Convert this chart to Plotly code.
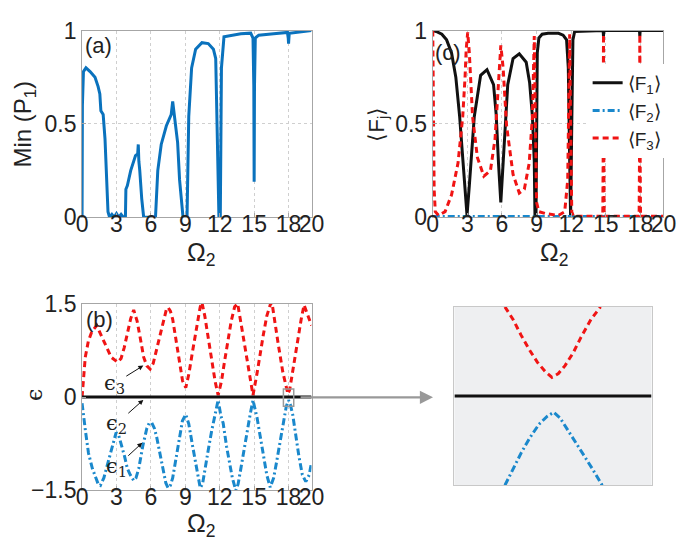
import plotly.graph_objects as go

# ---------------- data ----------------
# (a) Min(P1) vs Omega2
a_x = [0, 0.03, 0.12, 0.34, 0.7, 1.13, 1.4, 1.55, 1.64, 1.84, 2.0, 2.15, 2.26, 2.4, 2.6, 2.8, 3.0,
       3.2, 3.4, 3.6, 3.78, 3.82, 3.95, 4.24, 4.66, 4.85, 4.9, 4.95, 5.03, 5.2, 5.37, 5.5, 6.0,
       6.4, 6.6, 6.9, 7.35, 7.77, 7.9, 8.05, 8.33, 8.5, 8.7, 8.8, 9.0, 9.15, 9.3, 9.55, 9.9,
       10.45, 11.0, 11.45, 11.65, 11.8, 11.93, 12.05, 12.15, 12.37, 13.84, 14.7, 14.9, 14.97,
       15.0, 15.03, 15.1, 15.4, 16.7, 17.9, 17.97, 18.0, 18.03, 18.06, 20.0]
a_y = [0, 0.6, 0.78, 0.80, 0.78, 0.75, 0.70, 0.66, 0.57, 0.55, 0.42, 0.2, 0.03, 0.0, 0.015, 0.0,
       0.02, 0.0, 0.015, 0.0, 0.0, 0.15, 0.17, 0.25, 0.33, 0.34, 0.39, 0.3, 0.25, 0.1, 0.0, 0.0,
       0.0, 0.0, 0.25, 0.39, 0.49, 0.55, 0.62, 0.54, 0.40, 0.2, 0.03, 0.0, 0.0, 0.0, 0.54, 0.8,
       0.9, 0.935, 0.93, 0.9, 0.85, 0.37, 0.0, 0.0, 0.8, 0.966, 0.983, 0.986, 0.96, 0.7, 0.19,
       0.7, 0.96, 0.975, 0.983, 0.99, 0.96, 0.93, 0.96, 0.985, 1.0]

# (c) <F_j> vs Omega2
f1_x = [0, 0.3, 0.79, 1.2, 1.63, 2.0, 2.33, 2.75, 2.97, 3.17, 3.6, 4.15, 4.7, 5.27, 5.5, 5.7,
        5.9, 6.1, 6.5, 6.96, 7.5, 8.1, 8.4, 8.64, 8.8, 8.86, 8.95, 9.06, 9.2, 9.48, 10.0, 10.9,
        11.3, 11.6, 11.75, 11.87, 11.95, 12.05, 12.15, 12.3, 14.77, 14.8, 14.83, 17.92, 17.95,
        17.98, 20.0]
f1_y = [1.0, 0.995, 0.98, 0.95, 0.88, 0.75, 0.54, 0.2, 0.01, 0.17, 0.54, 0.76, 0.79, 0.71, 0.55,
        0.29, 0.08, 0.29, 0.71, 0.85, 0.875, 0.83, 0.72, 0.54, 0.3, 0.01, 0.0, 0.88, 0.96, 0.98,
        0.985, 0.985, 0.975, 0.95, 0.8, 0.3, 0.0, 0.5, 0.95, 0.995, 1.0, 0.97, 1.0, 1.0, 0.97,
        1.0, 1.0]
f2_x = [0, 5, 10, 15, 20]
f2_y = [0.004, 0.004, 0.004, 0.004, 0.004]
f3_x = [0, 0.05, 0.12, 0.22, 0.5, 1.07, 1.63, 2.19, 2.6, 2.8, 2.9, 3.03, 3.17, 3.45, 3.87, 4.43,
        5.0, 5.4, 5.7, 5.9, 6.1, 6.4, 6.96, 7.5, 7.94, 8.36, 8.64, 8.72, 8.8, 8.9, 9.0, 9.2, 9.76,
        10.9, 11.44, 11.7, 11.8, 11.87, 11.95, 12.05, 12.2, 14.74, 14.77, 14.8, 14.83, 14.86,
        17.89, 17.92, 17.95, 17.98, 18.01, 20.0]
f3_y = [1.0, 0.6, 0.15, 0.03, 0.01, 0.03, 0.12, 0.29, 0.54, 0.75, 0.9, 0.99, 0.88, 0.54, 0.32,
        0.22, 0.25, 0.42, 0.71, 0.92, 0.8, 0.49, 0.23, 0.13, 0.15, 0.29, 0.54, 0.8, 0.97, 0.5,
        0.08, 0.03, 0.02, 0.01, 0.03, 0.2, 0.6, 0.98, 0.5, 0.03, 0.005, 0.005, 0.3, 0.98, 0.3,
        0.005, 0.005, 0.3, 0.98, 0.3, 0.005, 0.005]

# (b) quasienergies vs Omega2
e3_x = [0.0, 0.08, 0.28, 0.55, 0.85, 1.27, 1.7, 2.1, 2.54, 3.1, 3.4, 3.67, 3.95, 4.24, 4.5, 4.8,
        5.1, 5.37, 5.65, 5.93, 6.2, 6.5, 6.78, 7.06, 7.34, 7.5, 7.7, 7.9, 8.1, 8.33, 8.55, 8.76,
        9.04, 9.32, 9.6, 9.9, 10.1, 10.3, 10.45, 10.7, 11.0, 11.3, 11.6, 11.86, 12.15, 12.4,
        12.7, 13.0, 13.3, 13.56, 13.84, 14.1, 14.4, 14.65, 14.9, 15.25, 15.5, 15.8, 16.1, 16.4,
        16.55, 16.8, 17.1, 17.5, 17.8, 17.94, 18.1, 18.36, 18.6, 18.9, 19.1, 19.35, 19.6, 19.8,
        20.0]
e3_y = [0.0, 0.23, 0.64, 0.9, 1.05, 1.15, 0.98, 0.8, 0.64, 0.56, 0.62, 0.79, 1.02, 1.26, 1.4,
        1.22, 0.92, 0.64, 0.5, 0.45, 0.54, 0.78, 1.0, 1.22, 1.4, 1.44, 1.38, 1.25, 1.02, 0.74,
        0.48, 0.26, 0.15, 0.38, 0.7, 1.0, 1.22, 1.45, 1.52, 1.3, 0.95, 0.6, 0.25, 0.03, 0.25,
        0.55, 0.9, 1.22, 1.45, 1.5, 1.2, 0.9, 0.55, 0.25, 0.03, 0.38, 0.68, 1.0, 1.3, 1.48, 1.52,
        1.2, 0.85, 0.4, 0.15, 0.05, 0.12, 0.43, 0.7, 1.0, 1.25, 1.48, 1.35, 1.25, 1.15]
e2_x = [0, 20]
e2_y = [0, 0]
e1_x = [0.0, 0.08, 0.3, 0.56, 0.9, 1.41, 1.6, 1.9, 2.26, 2.6, 2.97, 3.2, 3.4, 3.7, 3.95, 4.2,
        4.5, 4.7, 4.94, 5.3, 5.65, 5.85, 6.07, 6.3, 6.5, 6.8, 7.06, 7.3, 7.5, 7.7, 7.9, 8.2,
        8.47, 8.75, 9.04, 9.3, 9.6, 9.9, 10.1, 10.3, 10.5, 10.7, 11.0, 11.3, 11.6, 11.86, 12.1,
        12.3, 12.6, 12.85, 13.1, 13.4, 13.6, 13.84, 14.1, 14.4, 14.65, 14.9, 15.25, 15.5, 15.8,
        16.1, 16.4, 16.7, 16.95, 17.2, 17.5, 17.8, 18.0, 18.15, 18.36, 18.6, 18.9, 19.2, 19.5,
        19.8, 20.0]
e1_y = [-0.1, -0.23, -0.55, -0.9, -1.15, -1.4, -1.42, -1.3, -1.05, -0.8, -0.57, -0.62, -0.74,
        -0.95, -1.15, -1.25, -1.34, -1.3, -1.15, -0.78, -0.5, -0.42, -0.41, -0.5, -0.64, -0.9,
        -1.15, -1.38, -1.46, -1.42, -1.3, -0.95, -0.64, -0.38, -0.28, -0.43, -0.75, -1.05, -1.3,
        -1.46, -1.4, -1.15, -0.85, -0.54, -0.25, -0.05, -0.3, -0.42, -0.8, -1.05, -1.3, -1.5,
        -1.4, -1.15, -0.85, -0.54, -0.28, -0.05, -0.33, -0.6, -0.95, -1.25, -1.45, -1.3, -1.05,
        -0.78, -0.43, -0.15, -0.05, -0.12, -0.28, -0.6, -0.95, -1.25, -1.36, -1.25, -1.05]

# inset: zoom around Omega2 = 18
z3_x = [17.805, 17.838, 17.871, 17.904, 17.937, 17.970, 17.996, 18.022, 18.049, 18.082, 18.114,
        18.154, 18.193]
z3_y = [0.15, 0.1287, 0.1019, 0.0778, 0.0565, 0.0404, 0.0313, 0.0377, 0.051, 0.0725, 0.099,
        0.1287, 0.15]
z1_x = [17.805, 17.838, 17.871, 17.904, 17.943, 17.976, 18.003, 18.029, 18.062, 18.095, 18.128,
        18.160, 18.2]
z1_y = [-0.1505, -0.1227, -0.0959, -0.0719, -0.0478, -0.0345, -0.0276, -0.0372, -0.0586,
        -0.0799, -0.1014, -0.1227, -0.1505]
z2_x = [17.6, 18.4]
z2_y = [0, 0]

x_ticks = [0, 3, 6, 9, 12, 15, 18, 20]

# ---------------- styling ----------------
W, H = 685, 550
BLUE_A = "#0a72bd"
BLUE = "#1a88cc"
RED = "#f01414"
BLACK = "#111111"
DASH = "6px,4px"
DASHDOT = "7px,3px,2px,3px"
FONT = "Liberation Sans, Arial, sans-serif"


def px_x(p):
    return p / W


def px_y(p):
    return 1 - p / H


fig = go.Figure()

# (a)
fig.add_trace(go.Scatter(x=a_x, y=a_y, mode="lines", line=dict(color=BLUE_A, width=3),
                         xaxis="x", yaxis="y", showlegend=False))
# (c)
fig.add_trace(go.Scatter(x=f1_x, y=f1_y, mode="lines", line=dict(color=BLACK, width=3),
                         xaxis="x2", yaxis="y2", name="⟨F<sub>1</sub>⟩"))
fig.add_trace(go.Scatter(x=f2_x, y=f2_y, mode="lines", line=dict(color=BLUE, width=3, dash=DASHDOT),
                         xaxis="x2", yaxis="y2", name="⟨F<sub>2</sub>⟩"))
fig.add_trace(go.Scatter(x=f3_x, y=f3_y, mode="lines", line=dict(color=RED, width=3, dash=DASH),
                         xaxis="x2", yaxis="y2", name="⟨F<sub>3</sub>⟩"))
# (b)
fig.add_trace(go.Scatter(x=e3_x, y=e3_y, mode="lines", line=dict(color=RED, width=3, dash=DASH),
                         xaxis="x3", yaxis="y3", showlegend=False))
fig.add_trace(go.Scatter(x=e1_x, y=e1_y, mode="lines", line=dict(color=BLUE, width=3, dash=DASHDOT),
                         xaxis="x3", yaxis="y3", showlegend=False))
fig.add_trace(go.Scatter(x=e2_x, y=e2_y, mode="lines", line=dict(color=BLACK, width=3),
                         xaxis="x3", yaxis="y3", showlegend=False))
# inset
fig.add_trace(go.Scatter(x=z3_x, y=z3_y, mode="lines", line=dict(color=RED, width=3, dash=DASH),
                         xaxis="x4", yaxis="y4", showlegend=False))
fig.add_trace(go.Scatter(x=z1_x, y=z1_y, mode="lines", line=dict(color=BLUE, width=3, dash=DASHDOT),
                         xaxis="x4", yaxis="y4", showlegend=False))
fig.add_trace(go.Scatter(x=z2_x, y=z2_y, mode="lines", line=dict(color=BLACK, width=3),
                         xaxis="x4", yaxis="y4", showlegend=False))

AX_COL = "#a6a6a6"
GRID_COL = "#cfcfcf"
TICKFONT = dict(family=FONT, size=23, color="#222222")


def xax(domain, anchor):
    return dict(domain=domain, anchor=anchor, range=[0, 20], tickvals=x_ticks,
                showline=True, mirror=True, linecolor=AX_COL, linewidth=1,
                ticks="inside", ticklen=4, tickcolor=AX_COL, tickangle=0,
                showgrid=True, gridcolor=GRID_COL, griddash="dot", gridwidth=1,
                zeroline=False, tickfont=TICKFONT, fixedrange=True, ticklabelstandoff=-14)


def yax(domain, anchor, rng, tv, tt):
    return dict(domain=domain, anchor=anchor, range=rng, tickvals=tv, ticktext=tt,
                showline=True, mirror=True, linecolor=AX_COL, linewidth=1,
                ticks="inside", ticklen=4, tickcolor=AX_COL,
                showgrid=True, gridcolor=GRID_COL, griddash="dot", gridwidth=1,
                zeroline=False, tickfont=TICKFONT, fixedrange=True, ticklabelstandoff=0)


top_dom = [px_y(206), px_y(10)]
bot_dom = [px_y(492.7), px_y(296.7)]
left_dom = [px_x(70), px_x(306)]
right_dom = [px_x(430.7), px_x(668)]

fig.update_layout(
    width=W, height=H, margin=dict(l=0, r=0, t=0, b=0),
    paper_bgcolor="white", plot_bgcolor="white",
    font=dict(family=FONT, color="#222222"),
    xaxis=xax(left_dom, "y"),
    yaxis=yax(top_dom, "x", [0, 1], [0, 0.5, 1], ["0", "0.5", "1"]),
    xaxis2=xax(right_dom, "y2"),
    yaxis2=yax(top_dom, "x2", [0, 1], [0, 0.5, 1], ["0", "0.5", "1"]),
    xaxis3=xax(left_dom, "y3"),
    yaxis3=yax(bot_dom, "x3", [-1.5, 1.5], [-1.5, 0, 1.5], ["\u22121.5", "0", "1.5"]),
    xaxis4=dict(domain=[px_x(453), px_x(655.7)], anchor="y4", range=[17.6, 18.4],
                showline=True, mirror=True, linecolor="#c8c8c8", linewidth=1,
                showticklabels=False, ticks="", showgrid=False, zeroline=False, fixedrange=True),
    yaxis4=dict(domain=[px_y(487), px_y(300)], anchor="x4", range=[-0.15, 0.15],
                showline=True, mirror=True, linecolor="#c8c8c8", linewidth=1,
                showticklabels=False, ticks="", showgrid=False, zeroline=False, fixedrange=True),
    legend=dict(x=px_x(590), y=px_y(45), xanchor="left", yanchor="top",
                bgcolor="white", borderwidth=0, font=dict(family=FONT, size=19, color="#222222"),
                tracegroupgap=0, itemwidth=30),
    showlegend=True,
)

shapes = [
    # inset background
    dict(type="rect", xref="paper", yref="paper", x0=px_x(453), x1=px_x(655.7),
         y0=px_y(487), y1=px_y(300), fillcolor="#eeeff1", line=dict(width=0), layer="below"),
    # small box in (b)
    dict(type="rect", xref="x3", yref="y3", x0=17.55, x1=18.45, y0=-0.15, y1=0.13,
         line=dict(color="#999999", width=1.5), layer="above"),
]
fig.update_layout(shapes=shapes)

ann = []
# panel labels
for txt, cx, cy in [("(a)", 87, 26), ("(b)", 88, 313), ("(c)", 446, 33)]:
    ann.append(dict(text=txt, x=px_x(cx), y=px_y(cy), xref="paper", yref="paper",
                    showarrow=False, font=dict(family=FONT, size=22, color="#222222"),
                    xanchor="center", yanchor="middle"))
# axis titles
for cx, cy in [(192, 245), (555, 245), (192, 529)]:
    ann.append(dict(text="Ω<sub>2</sub>", x=px_x(cx), y=px_y(cy), xref="paper", yref="paper",
                    showarrow=False, font=dict(family=FONT, size=25, color="#222222"),
                    xanchor="center", yanchor="middle"))
ann.append(dict(text="Min (P<sub>1</sub>)", x=px_x(11), y=px_y(108), xref="paper", yref="paper",
                showarrow=False, textangle=-90, font=dict(family=FONT, size=24, color="#222222"),
                xanchor="center", yanchor="middle"))
ann.append(dict(text="⟨F<sub>j</sub>⟩", x=px_x(374), y=px_y(108), xref="paper", yref="paper",
                showarrow=False, textangle=-90, font=dict(family=FONT, size=22, color="#222222"),
                xanchor="center", yanchor="middle"))
ann.append(dict(text="ϵ", x=px_x(21), y=px_y(392), xref="paper", yref="paper",
                showarrow=False, textangle=-90, font=dict(family="DejaVu Serif, serif", size=22,
                                                         color="#222222"),
                xanchor="center", yanchor="middle"))
# epsilon annotations with arrows
for txt, tx, ty, ax_, ay_ in [("ϵ<sub>3</sub>", 5.34, 0.505, -29, 18),
                              ("ϵ<sub>2</sub>", 5.34, -0.046, -27, 24),
                              ("ϵ<sub>1</sub>", 5.25, -0.735, -26, 24)]:
    ann.append(dict(text=txt, x=tx, y=ty, xref="x3", yref="y3", ax=ax_, ay=ay_,
                    axref="pixel", ayref="pixel", showarrow=True, arrowhead=2, arrowsize=1,
                    arrowwidth=1, arrowcolor="#111111",
                    font=dict(family="DejaVu Serif, serif", size=21, color="#222222")))
# grey arrow from box to inset
ann.append(dict(text="", x=px_x(431), y=px_y(395), xref="paper", yref="paper",
                ax=-(431 - 297), ay=0, axref="pixel", ayref="pixel", showarrow=True,
                arrowhead=2, arrowsize=1.2, arrowwidth=2.2, arrowcolor="#999999"))
fig.update_layout(annotations=ann)

fig.write_html("out.html")
